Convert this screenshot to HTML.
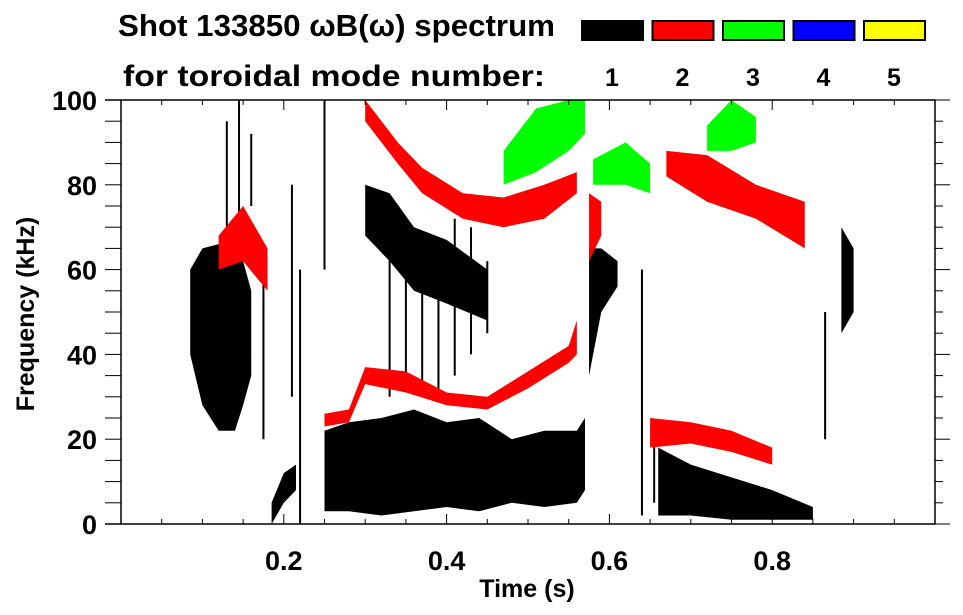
<!DOCTYPE html>
<html><head><meta charset="utf-8">
<style>
html,body{margin:0;padding:0;background:#fff;}
svg{display:block;font-family:"Liberation Sans",sans-serif;font-weight:bold;}
</style></head>
<body>
<svg id="chart" width="963" height="615" viewBox="0 0 963 615" xmlns="http://www.w3.org/2000/svg">
<text x="118" y="36" font-size="31" textLength="437" lengthAdjust="spacingAndGlyphs">Shot 133850 ωB(ω) spectrum</text>
<text x="123" y="86" font-size="30" textLength="422" lengthAdjust="spacingAndGlyphs">for toroidal mode number:</text>
<g id="legend"></g>
<g id="marks"></g>
<g id="axes"></g>
<text x="527" y="597" font-size="25" text-anchor="middle">Time (s)</text>
<text transform="translate(34,314) rotate(-90)" font-size="25" text-anchor="middle">Frequency (kHz)</text>
</svg>
<script>
const modeNumbers = [1, 2, 3, 4, 5];
const modeColors = ["#000000", "#ff0000", "#00ff00", "#0000ff", "#ffff00"];
const xTicks = [0.2, 0.4, 0.6, 0.8];
const yTicks = [0, 20, 40, 60, 80, 100];

// bands: times, low freq, high freq (kHz)
const bA_t=[0.085,0.10,0.12,0.14,0.15,0.16], bA_lo=[40,28,22,22,28,35], bA_hi=[60,65,66,66,62,55];
const bB_t=[0.25,0.28,0.32,0.36,0.40,0.44,0.48,0.52,0.56,0.57], bB_lo=[3,3,2,3,4,3,5,4,5,8], bB_hi=[22,24,25,27,24,25,20,22,22,25];
const bC_t=[0.30,0.33,0.36,0.40,0.45], bC_lo=[68,62,55,52,48], bC_hi=[80,78,70,67,60];
const bD_t=[0.575,0.59,0.61], bD_lo=[35,50,56], bD_hi=[65,65,62];
const bE_t=[0.66,0.70,0.75,0.80,0.85], bE_lo=[2,2,1,1,1], bE_hi=[18,14,11,8,4];
const bF_t=[0.185,0.20,0.215], bF_lo=[0,5,8], bF_hi=[5,12,14];
const bG_t=[0.885,0.90], bG_lo=[45,50], bG_hi=[70,65];
const r1_t=[0.25,0.28,0.30,0.35,0.40,0.45,0.50,0.55,0.56], r1_lo=[23,24,33,31,28,27,32,38,40], r1_hi=[26,27,37,36,31,30,36,42,48];
const r2_t=[0.30,0.34,0.37,0.42,0.47,0.52,0.56], r2_lo=[95,85,78,72,70,72,78], r2_hi=[100,90,84,78,77,80,83];
const r3_t=[0.575,0.59], r3_lo=[62,68], r3_hi=[78,76];
const r4_t=[0.67,0.72,0.78,0.84], r4_lo=[82,76,72,65], r4_hi=[88,87,80,76];
const r5_t=[0.65,0.70,0.75,0.80], r5_lo=[18,19,17,14], r5_hi=[25,24,22,18];
const r6_t=[0.12,0.15,0.18], r6_lo=[60,62,55], r6_hi=[68,75,65];
const g1_t=[0.47,0.51,0.55,0.57], g1_lo=[80,83,88,92], g1_hi=[88,98,100,100];
const g2_t=[0.58,0.62,0.65], g2_lo=[80,80,78], g2_hi=[86,90,85];
const g3_t=[0.72,0.75,0.78], g3_lo=[88,88,90], g3_hi=[94,100,96];

// vertical black streaks: time, low freq, high freq
const streakT  = [0.13,0.145,0.16,0.175,0.21,0.22,0.25,0.33,0.35,0.37,0.39,0.41,0.43,0.45,0.64,0.655,0.865];
const streakLo = [70,   72,   75,  20,   30,  0,   60,  30,  35,  32,  30,  35,  40,  45,  2,   5,   20];
const streakHi = [95,   100,  92,  60,   80,  60,  100, 65,  70,  62,  66,  72,  70,  62,  60,  22,  50];

const bands = [
 [0,bA_t,bA_lo,bA_hi],[0,bB_t,bB_lo,bB_hi],[0,bC_t,bC_lo,bC_hi],[0,bD_t,bD_lo,bD_hi],
 [0,bE_t,bE_lo,bE_hi],[0,bF_t,bF_lo,bF_hi],[0,bG_t,bG_lo,bG_hi],
 [1,r1_t,r1_lo,r1_hi],[1,r2_t,r2_lo,r2_hi],[1,r3_t,r3_lo,r3_hi],[1,r4_t,r4_lo,r4_hi],[1,r5_t,r5_lo,r5_hi],[1,r6_t,r6_lo,r6_hi],
 [2,g1_t,g1_lo,g1_hi],[2,g2_t,g2_lo,g2_hi],[2,g3_t,g3_lo,g3_hi]
];

const L=121,R=935,T=100,B=524;
const xs=t=>L+t*(R-L);
const ys=f=>B-f/100*(B-T);
const NS="http://www.w3.org/2000/svg";
function mk(tag,attrs,parent){const e=document.createElementNS(NS,tag);for(const k in attrs)e.setAttribute(k,attrs[k]);parent.appendChild(e);return e;}

const marks=document.getElementById('marks');
streakT.forEach((t,i)=>{
  const s=mk('line',{x1:xs(t),x2:xs(t),y1:ys(streakLo[i]),y2:ys(streakHi[i]),stroke:'#000','stroke-width':2},marks);
  
  
});
bands.forEach(b=>{
  const [m,t,lo,hi]=b;
  let pts=[];
  for(let i=0;i<t.length;i++)pts.push(xs(t[i])+','+ys(hi[i]));
  for(let i=t.length-1;i>=0;i--)pts.push(xs(t[i])+','+ys(lo[i]));
  const p=mk('polygon',{points:pts.join(' '),fill:modeColors[m]},marks);
  
  
});

const leg=document.getElementById('legend');
modeNumbers.forEach((n,i)=>{
  const x=582+i*70.5;
  const r=mk('rect',{x:x,y:21,width:61,height:19,fill:modeColors[i],stroke:'#000','stroke-width':2},leg);
  
  
  const tx=mk('text',{x:x+30,y:86,'font-size':25,'text-anchor':'middle'},leg);
  tx.textContent=n;
  
  
});

const ax=document.getElementById('axes');
mk('rect',{x:L,y:T,width:R-L,height:B-T,fill:'none',stroke:'#000','stroke-width':1.5},ax);
mk('line',{x1:105,y1:T,x2:L,y2:T,stroke:'#000','stroke-width':1.5},ax);
mk('line',{x1:105,y1:B,x2:L,y2:B,stroke:'#000','stroke-width':1.5},ax);
for(let f=0;f<=100;f+=5){
  const major=f%20===0;
  mk('line',{x1:L-16,y1:ys(f),x2:L,y2:ys(f),stroke:'#000','stroke-width':1},ax);
  mk('line',{x1:R,y1:ys(f),x2:R+(major?15:8),y2:ys(f),stroke:'#000','stroke-width':1},ax);
}
for(let t=0.05;t<1;t+=0.05){
  const major=Math.abs(t*10-Math.round(t*10))<1e-6 && Math.round(t*10)%2===0;
  mk('line',{x1:xs(t),y1:B,x2:xs(t),y2:B-(major?10:5),stroke:'#000','stroke-width':1},ax);
  mk('line',{x1:xs(t),y1:T,x2:xs(t),y2:T+(major?10:5),stroke:'#000','stroke-width':1},ax);
}
yTicks.forEach(f=>{
  const tx=mk('text',{x:97,y:ys(f)+10,'font-size':27,'text-anchor':'end'},ax);
  tx.textContent=f;
  
  
});
xTicks.forEach(t=>{
  const tx=mk('text',{x:xs(t),y:570,'font-size':27,'text-anchor':'middle'},ax);
  tx.textContent=t.toFixed(1);
  
  
});
</script>
</body></html>
